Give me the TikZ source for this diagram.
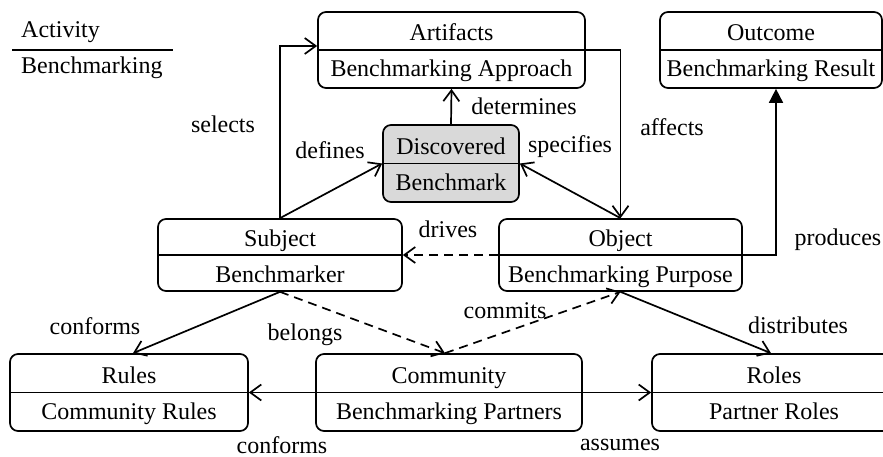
\documentclass[tikz,border=0pt]{standalone}
\usepackage{fontspec}
\setmainfont{Liberation Serif}
\newfontfamily\tnr{Liberation Serif}
\usetikzlibrary{arrows.meta,fit}
\tikzset{
  box/.style={draw, rounded corners=8pt, line width=1.7pt, inner sep=0pt},
  conn/.style={line width=1.7pt, -{Straight Barb[length=11pt,width=16pt]}},
  dconn/.style={conn, dash pattern=on 9pt off 6pt},
  fconn/.style={line width=1.7pt, -{Triangle[length=14pt,width=14pt]}},
  lbl/.style={inner sep=0pt},
}
\newcommand{\umlbox}[6][]{%
  \coordinate (#2-nw) at (#3);
  \coordinate (#2-se) at (#4);
  \node[box,fit=(#2-nw)(#2-se),#1] (#2) {};
  \draw[line width=1.7pt] (#2.west) -- (#2.east);
  \node[anchor=base] (#2-t) at ([yshift=9pt]#2.center) {#5};
  \node[anchor=base] (#2-b) at ([yshift=-27pt]#2.center) {#6};
}
\begin{document}
\begin{tikzpicture}[x=1pt,y=-1pt,font=\tnr\fontsize{24}{28}\selectfont]
\useasboundingbox (0,0) rectangle (883,457);
\clip (0,0) rectangle (883,457);
% legend
\node[anchor=base west, inner sep=0pt] (act) at (21,38) {Activity};
\draw[line width=1.7pt] (12,50) -- (173,50);
\node[anchor=base west, inner sep=0pt] (bm) at (21,74) {Benchmarking};
% boxes
\umlbox{art}{318,12}{585,88}{Artifacts}{Benchmarking Approach}
\umlbox{out}{660,12}{882,88}{Outcome}{Benchmarking Result}
\umlbox[fill=black!15]{disc}{383,125}{519,202}{Discovered}{Benchmark}
\umlbox{subj}{158,219}{402,291}{Subject}{Benchmarker}
\umlbox{obj}{499,219}{742,291}{Object}{Benchmarking Purpose}
\umlbox{rules}{10,354}{248,431}{Rules}{Community Rules}
\umlbox{comm}{316,354}{582,431}{Community}{Benchmarking Partners}
\umlbox{roles}{652,354}{896,431}{Roles}{Partner Roles}
% connectors
\draw[conn] (subj.north) |- ([yshift=4pt]art.west);
\draw[conn] (subj.north) -- (disc.west);
\draw[conn] (disc.north) -- (art.south);
\draw[conn] (obj.north) -- (disc.east);
\draw[conn] (art.east) -| (obj.north);
\draw[fconn] (obj.east) -| ([xshift=5pt]out.south);
\draw[dconn] (obj.west) -- (subj.east);
\draw[dconn] (subj.south) -- ([xshift=-4pt]comm.north);
\draw[dconn] ([xshift=-4pt]comm.north) -- (obj.south);
\draw[conn] (subj.south) -- ([xshift=4pt]rules.north);
\draw[conn] (obj.south) -- ([xshift=-3pt]roles.north);
\draw[conn] (comm.west) -- (rules.east);
\draw[conn] (comm.east) -- (roles.west);
% labels
\node[lbl] (l1) at (223,124) {selects};
\node[lbl] (l2) at (330,150) {defines};
\node[lbl] (l3) at (524,106) {determines};
\node[lbl] (l4) at (570,147) {specifies};
\node[lbl] (l5) at (672,127) {affects};
\node[lbl] (l6) at (838,240) {produces};
\node[lbl] (l7) at (448,229) {drives};
\node[lbl] (l8) at (505,311) {commits};
\node[lbl] (l9) at (305,335) {belongs};
\node[lbl] (l10) at (95,326) {conforms};
\node[lbl] (l11) at (798,325) {distributes};
\node[lbl] (l12) at (282,445) {conforms};
\node[lbl] (l13) at (620,445) {assumes};
\end{tikzpicture}
\end{document}
